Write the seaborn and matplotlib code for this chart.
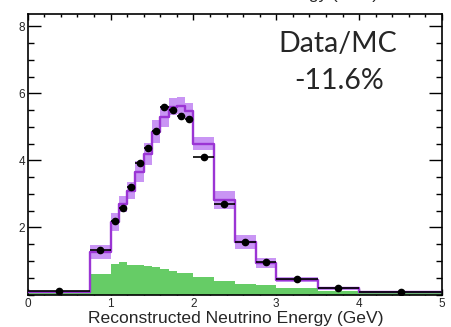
import numpy as np
import pandas as pd
import matplotlib
matplotlib.use("Agg")
import matplotlib.pyplot as plt
import seaborn as sns
from matplotlib.ticker import MultipleLocator

# ---- data ----
bin_edges = [0, 0.75, 1.0, 1.1, 1.2, 1.3, 1.4, 1.5, 1.6, 1.7, 1.8, 1.9, 2.0,
             2.25, 2.5, 2.75, 3.0, 3.5, 4.0, 5.0]
mc_values = [0.08, 1.27, 2.15, 2.70, 3.10, 3.67, 4.18, 4.86, 5.31, 5.60, 5.63,
             5.49, 4.50, 2.82, 1.56, 0.94, 0.44, 0.18, 0.07]
mc_errors = [0.03, 0.20, 0.27, 0.25, 0.25, 0.30, 0.33, 0.34, 0.30, 0.25, 0.25,
             0.22, 0.20, 0.27, 0.21, 0.16, 0.08, 0.05, 0.02]
data_values = [0.10, 1.33, 2.19, 2.59, 3.22, 3.92, 4.37, 4.88, 5.58, 5.50, 5.32,
               5.24, 4.11, 2.70, 1.57, 0.96, 0.45, 0.19, 0.08]
bkg_values = [0.05, 0.60, 0.90, 0.96, 0.88, 0.87, 0.84, 0.81, 0.76, 0.69, 0.63,
              0.63, 0.51, 0.39, 0.31, 0.27, 0.18, 0.11, 0.05]
title_text = "Reconstructed Neutrino Energy (GeV)"
xlabel_text = "Reconstructed Neutrino Energy (GeV)"
ratio_label = "Data/MC"
ratio_value = "-11.6%"

edges = np.array(bin_edges)
lo, hi = edges[:-1], edges[1:]
centers = (lo + hi) / 2
widths = hi - lo
df = pd.DataFrame({"center": centers, "mc": mc_values, "bkg": bkg_values,
                   "data": data_values, "err": mc_errors})

sns.set_style("ticks")
plt.rcParams["font.family"] = ["Liberation Sans", "DejaVu Sans"]

fig = plt.figure(figsize=(4.52, 3.27), dpi=100)
ax = fig.add_axes([27.7 / 452, 1 - 294.5 / 327, (442 - 27.7) / 452, (294.5 - 14) / 327])

line_col = "#9b35d4"
band_col = "#c995f4"
green_col = "#66cc66"

# background (green filled)
sns.histplot(data=df, x="center", weights="bkg", bins=list(bin_edges), element="step",
             fill=True, color=green_col, alpha=1.0, linewidth=0, ax=ax, zorder=1)
# MC error band
ax.bar(lo, 2 * df["err"], bottom=df["mc"] - df["err"], width=widths, align="edge",
       color=band_col, linewidth=0, zorder=2)
# MC line
sns.histplot(data=df, x="center", weights="mc", bins=list(bin_edges), element="step",
             fill=False, color=line_col, linewidth=1.7, ax=ax, zorder=3)
# data points
ax.errorbar(df["center"], df["data"], xerr=widths / 2, fmt="o", color="black",
            markersize=4.5, elinewidth=1.2, capsize=0, zorder=5)

ax.set_xlim(0, 5)
ax.set_ylim(0, 8.37)
ax.set_xlabel("")
ax.set_ylabel("")
ax.xaxis.set_major_locator(MultipleLocator(1))
ax.xaxis.set_minor_locator(MultipleLocator(0.2))
ax.yaxis.set_minor_locator(MultipleLocator(0.5))
ax.set_yticks([2, 4, 6, 8])
ax.tick_params(axis="both", which="both", direction="in", top=True, right=True,
               labelsize=8.5, color="black", width=1.0, pad=2)
ax.tick_params(axis="x", which="major", length=4.5)
ax.tick_params(axis="x", which="minor", length=2.3)
ax.tick_params(axis="y", which="major", length=9.2)
ax.tick_params(axis="y", which="minor", length=4.5)
ax.tick_params(axis="x", which="major", pad=2.5)
for s in ax.spines.values():
    s.set_linewidth(1.2)
    s.set_color("black")

fig.text(236 / 452, 1 - 318 / 327, xlabel_text, ha="center", va="center", fontsize=12.6)
fig.text(232 / 452, 1 + 5 / 327, title_text, ha="center", va="center", fontsize=12.4)

ax.text(338 / 452, 1 - 44 / 327, ratio_label, transform=fig.transFigure,
        ha="center", va="center", fontsize=20.5, family=["Lato", "DejaVu Sans"])
ax.text(339 / 452, 1 - 81 / 327, ratio_value, transform=fig.transFigure,
        ha="center", va="center", fontsize=20.5, family=["Lato", "DejaVu Sans"])

fig.savefig("out.png", dpi=100)
